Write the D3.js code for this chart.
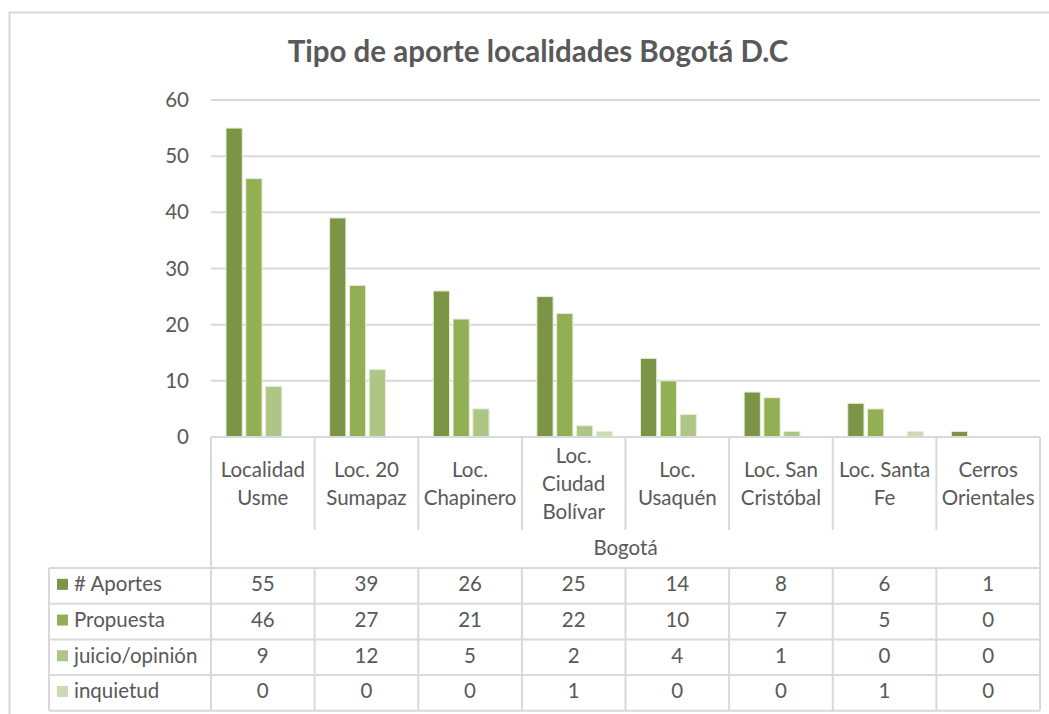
<!DOCTYPE html>
<html>
<head>
<meta charset="utf-8">
<script src="https://cdn.jsdelivr.net/npm/d3@7"></script>
<style>
  body { margin: 0; background: #fff; }
  svg text { font-family: Lato, "Open Sans", sans-serif; fill: #595959; }
</style>
</head>
<body>
<svg class="chart" width="1049" height="714"></svg>
<script>
// data
let categories = [
  ["Localidad", "Usme"],
  ["Loc. 20", "Sumapaz"],
  ["Loc.", "Chapinero"],
  ["Loc.", "Ciudad", "Bolívar"],
  ["Loc.", "Usaquén"],
  ["Loc. San", "Cristóbal"],
  ["Loc. Santa", "Fe"],
  ["Cerros", "Orientales"]
]
let seriesNames = ["# Aportes", "Propuesta", "juicio/opinión", "inquietud"]
let aportes = [55, 39, 26, 25, 14, 8, 6, 1]
let propuesta = [46, 27, 21, 22, 10, 7, 5, 0]
let juicio = [9, 12, 5, 2, 4, 1, 0, 0]
let inquietud = [0, 0, 0, 1, 0, 0, 1, 0]
let yTicks = [0, 10, 20, 30, 40, 50, 60]
let groupLabel = "Bogotá"
let title = "Tipo de aporte localidades Bogotá D.C"

let colors = ["#7b9445", "#93af53", "#adc686", "#cbdbb3"]
let series = [aportes, propuesta, juicio, inquietud]
let fontSize = "20.5px"

let svg = d3.select('.chart')

// outer frame
svg.append("rect")
    .attr("x", 9.5).attr("y", 12.5)
    .attr("width", 1100).attr("height", 800)
    .attr("fill", "none").attr("stroke", "#d9d9d9").attr("stroke-width", 2)

svg.append("text")
    .attr("x", 538).attr("y", 62)
    .attr("text-anchor", "middle")
    .style("font-size", "29.5px").style("font-weight", "bold")
    .text(title)

let plotLeft = 211, plotRight = 1040, plotTop = 100, base = 437

let x = d3.scaleBand()
    .domain(d3.range(categories.length))
    .range([plotLeft, plotRight])

let x1 = d3.scaleBand()
    .domain(d3.range(series.length))
    .range([15, x.bandwidth() - 13])
    .paddingInner(0.18)

let y = d3.scaleLinear()
    .domain([0, 60])
    .range([base, plotTop])

// gridlines
svg.append("g")
    .selectAll("line")
    .data(yTicks.filter(d => d > 0))
    .enter().append("line")
    .attr("x1", plotLeft).attr("x2", plotRight)
    .attr("y1", d => y(d)).attr("y2", d => y(d))
    .attr("stroke", "#d9d9d9").attr("stroke-width", 2)

svg.append("g")
    .selectAll("text")
    .data(yTicks)
    .enter().append("text")
    .attr("x", 189).attr("y", d => y(d) + 7)
    .attr("text-anchor", "end")
    .style("font-size", fontSize)
    .text(d => d)

// bars
series.forEach(function(vals, s){
    svg.append("g")
        .selectAll("rect")
        .data(vals)
        .enter().append("rect")
        .attr("x", (d, i) => x(i) + x1(s))
        .attr("width", x1.bandwidth())
        .attr("y", d => y(d))
        .attr("height", d => base - y(d))
        .attr("fill", colors[s])
        .attr("stroke", d => d > 0 ? "#e6eed8" : "none")
        .attr("stroke-width", 1)
})

// data table
let rowTop = 568, rowH = 35.7, tableLeft = 49
let lineColor = "#d9d9d9"
let table = svg.append("g")

// axis line / table top
table.append("line")
    .attr("x1", plotLeft).attr("x2", plotRight)
    .attr("y1", base).attr("y2", base)
    .attr("stroke", lineColor).attr("stroke-width", 2)

// category separators
table.selectAll(".sep")
    .data(d3.range(1, categories.length))
    .enter().append("line")
    .attr("x1", d => x(d)).attr("x2", d => x(d))
    .attr("y1", base).attr("y2", 530)
    .attr("stroke", lineColor).attr("stroke-width", 2)

// outer vertical lines of category area
table.selectAll(".edge")
    .data([plotLeft, plotRight])
    .enter().append("line")
    .attr("x1", d => d).attr("x2", d => d)
    .attr("y1", base).attr("y2", rowTop + rowH * 4)
    .attr("stroke", lineColor).attr("stroke-width", 2)

// category labels
categories.forEach(function(lines, i){
    let startY = 484 - (lines.length - 1) * 28 / 2 + 7
    let t = table.append("text")
        .attr("text-anchor", "middle")
        .style("font-size", fontSize)
    lines.forEach(function(l, j){
        t.append("tspan")
            .attr("x", x(i) + x.bandwidth() / 2)
            .attr("y", startY + j * 28)
            .text(l)
    })
})

table.append("text")
    .attr("x", (plotLeft + plotRight) / 2).attr("y", 555)
    .attr("text-anchor", "middle")
    .style("font-size", fontSize)
    .text(groupLabel)

// horizontal row lines
table.selectAll(".hline")
    .data(d3.range(5))
    .enter().append("line")
    .attr("x1", tableLeft).attr("x2", plotRight)
    .attr("y1", d => rowTop + d * rowH).attr("y2", d => rowTop + d * rowH)
    .attr("stroke", lineColor).attr("stroke-width", 2)

// vertical lines in the data rows
table.selectAll(".vline")
    .data([tableLeft].concat(d3.range(1, categories.length).map(d => x(d))))
    .enter().append("line")
    .attr("x1", d => d).attr("x2", d => d)
    .attr("y1", rowTop).attr("y2", rowTop + rowH * 4)
    .attr("stroke", lineColor).attr("stroke-width", 2)

series.forEach(function(vals, s){
    let cy = rowTop + s * rowH + rowH / 2
    table.append("rect")
        .attr("x", 57).attr("y", cy - 7)
        .attr("width", 11).attr("height", 11)
        .attr("fill", colors[s])
    table.append("text")
        .attr("x", 74).attr("y", cy + 5.5)
        .style("font-size", fontSize)
        .text(seriesNames[s])
    table.selectAll(".v" + s)
        .data(vals)
        .enter().append("text")
        .attr("x", (d, i) => x(i) + x.bandwidth() / 2)
        .attr("y", cy + 5.5)
        .attr("text-anchor", "middle")
        .style("font-size", fontSize)
        .text(d => d)
})
</script>
</body>
</html>
